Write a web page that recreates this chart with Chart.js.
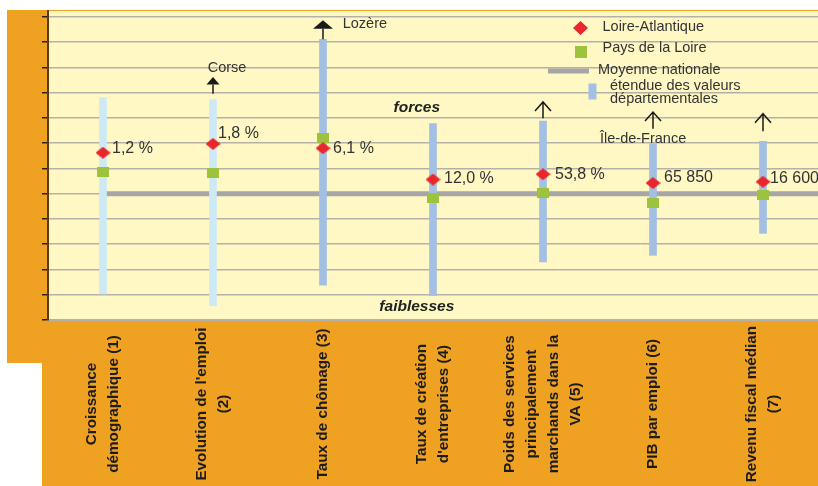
<!DOCTYPE html>
<html lang="fr">
<head>
<meta charset="utf-8">
<title>Forces et faiblesses de la Loire-Atlantique</title>
<script src="https://cdn.jsdelivr.net/npm/chart.js@4"></script>
<style>
  html, body { margin: 0; padding: 0; background: #ffffff; }
  canvas { display: block; }
</style>
</head>
<body>
<canvas id="chart" width="818" height="486"></canvas>
<script>
// Indicator names (one line per entry, drawn rotated under each column)
const categories = [
  ["Croissance", "démographique (1)"],
  ["Evolution de l'emploi", "(2)"],
  ["Taux de chômage (3)"],
  ["Taux de création", "d'entreprises (4)"],
  ["Poids des services", "principalement", "marchands dans la", "VA (5)"],
  ["PIB par emploi (6)"],
  ["Revenu fiscal médian", "(7)"]
];

// Range of departmental values (normalised index, national average = 5)
const rangeLow  = [1.03, 0.57, 1.38, 0.96, 2.30, 2.56, 3.43];
const rangeHigh = [8.80, 8.72, 11.11, 7.77, 7.87, 6.98, 7.07];

// Positions on the same index
const loireAtlantique = [6.62, 6.97, 6.80, 5.56, 5.77, 5.42, 5.47];
const paysDeLaLoire   = [5.85, 5.80, 7.20, 4.81, 5.02, 4.64, 4.93];
const nationalAverage = 5;

// Actual Loire-Atlantique values written beside the diamonds
const valueLabels = ["1,2 %", "1,8 %", "6,1 %", "12,0 %", "53,8 %", "65 850", "16 600"];

// Horizontal guide lines
const yTicks = [0, 1, 2, 3, 4, 5, 6, 7, 8, 9, 10, 11, 12];

const seriesNames = ["Loire-Atlantique", "Pays de la Loire", "Moyenne nationale", "étendue des valeurs", "départementales"];

// ---------- styling ----------
const C = {
  orange: '#EFA122',
  plot: '#FFF8C4',
  grid: '#B3B1A8',
  axis: '#5B3C12',
  avg: '#A6A6A6',
  red: '#E9262C',
  green: '#9DC33C',
  rangeLight: '#CDE9F6',
  range: '#A3BFE3',
  text: '#333333',
  label: '#1c1c1c'
};
const rangeColors = [C.rangeLight, C.rangeLight, C.range, C.range, C.range, C.range, C.range];
const SANS = '"Liberation Sans", Arial, sans-serif';

// label placement beside each diamond: [dx, dy]
const labelOffsets = [[9, -4], [5, -10], [10, 0], [11, -1], [12, 0], [11, -5], [7, -3]];

// arrows pointing to departments beyond the range
const arrows = [
  { index: 1, kind: 'filled', tip: 22.6, gap: 6, hw: 6.5, h: 7.5, text: 'Corse', tx: -5.3, ty: -5 },
  { index: 2, kind: 'filled', tip: 19, gap: 0, hw: 10, h: 8.5, text: 'Lozère', tx: 19.7, ty: 7.3 },
  { index: 4, kind: 'open', tip: 19.2, gap: 3 },
  { index: 5, kind: 'open', tip: 31.6, gap: 15, text: 'Île-de-France', tx: -53, ty: 30.6 },
  { index: 6, kind: 'open', tip: 27.7, gap: 10 }
];

function makeDiamond(w, h, color) {
  const c = document.createElement('canvas');
  c.width = w; c.height = h;
  const g = c.getContext('2d');
  g.fillStyle = color;
  g.beginPath();
  g.moveTo(w / 2, 0); g.lineTo(w, h / 2); g.lineTo(w / 2, h); g.lineTo(0, h / 2);
  g.closePath(); g.fill();
  return c;
}
function makeSquare(w, h, color) {
  const c = document.createElement('canvas');
  c.width = w; c.height = h;
  const g = c.getContext('2d');
  g.fillStyle = color;
  g.fillRect(0, 0, w, h);
  return c;
}
const diamondImg = makeDiamond(15, 12, C.red);
const squareImg = makeSquare(12, 10, C.green);
const legendDiamond = makeDiamond(15, 14, C.red);
const legendSquare = makeSquare(12, 12, C.green);

// ---------- plugins ----------
const backdrop = {
  id: 'backdrop',
  beforeDraw(chart) {
    const { ctx, chartArea: a, width, height } = chart;
    ctx.save();
    ctx.fillStyle = '#ffffff';
    ctx.fillRect(0, 0, width, height);
    ctx.fillStyle = C.orange;
    ctx.beginPath();
    ctx.moveTo(7, 10); ctx.lineTo(width, 10); ctx.lineTo(width, height);
    ctx.lineTo(42, height); ctx.lineTo(42, 363); ctx.lineTo(7, 363);
    ctx.closePath(); ctx.fill();
    ctx.fillStyle = C.plot;
    ctx.fillRect(a.left, a.top, a.right - a.left, a.bottom - a.top);
    ctx.restore();
  }
};

const averageLine = {
  id: 'averageLine',
  beforeDatasetsDraw(chart) {
    const { ctx, chartArea: a, scales: { x, y } } = chart;
    const py = y.getPixelForValue(nationalAverage);
    ctx.save();
    ctx.strokeStyle = C.avg;
    ctx.lineWidth = 5;
    ctx.beginPath();
    ctx.moveTo(x.getPixelForValue(0), py);
    ctx.lineTo(a.right, py);
    ctx.stroke();
    ctx.restore();
  }
};

function drawArrow(ctx, ax, tipY, spec, stemEnd) {
  ctx.strokeStyle = '#1a1a1a';
  ctx.fillStyle = '#1a1a1a';
  ctx.lineWidth = 1.5;
  if (spec.kind === 'filled') {
    ctx.beginPath();
    ctx.moveTo(ax, tipY);
    ctx.lineTo(ax + spec.hw, tipY + spec.h);
    ctx.lineTo(ax - spec.hw, tipY + spec.h);
    ctx.closePath(); ctx.fill();
    ctx.beginPath();
    ctx.moveTo(ax, tipY + spec.h); ctx.lineTo(ax, stemEnd); ctx.stroke();
  } else {
    ctx.beginPath();
    ctx.moveTo(ax - 8, tipY + 9); ctx.lineTo(ax, tipY); ctx.lineTo(ax + 8, tipY + 9);
    ctx.moveTo(ax, tipY); ctx.lineTo(ax, stemEnd);
    ctx.stroke();
  }
}

const annotations = {
  id: 'annotations',
  afterDraw(chart) {
    const { ctx, chartArea: a, scales: { x, y } } = chart;
    ctx.save();

    // values beside the Loire-Atlantique diamonds
    const meta = chart.getDatasetMeta(0);
    ctx.font = '16px ' + SANS;
    ctx.fillStyle = C.text;
    ctx.textAlign = 'left';
    ctx.textBaseline = 'middle';
    meta.data.forEach((pt, i) => {
      const [dx, dy] = labelOffsets[i];
      ctx.fillText(valueLabels[i], pt.x + dx, pt.y + dy);
    });

    // arrows above the ranges
    ctx.font = '14.5px ' + SANS;
    ctx.textBaseline = 'alphabetic';
    arrows.forEach(spec => {
      const ax = x.getPixelForValue(spec.index);
      const top = y.getPixelForValue(rangeHigh[spec.index]);
      const tipY = top - spec.tip;
      drawArrow(ctx, ax, tipY, spec, top - spec.gap);
      if (spec.text) {
        ctx.fillStyle = C.text;
        ctx.fillText(spec.text, ax + spec.tx, tipY + spec.ty);
      }
    });

    // forces / faiblesses
    ctx.font = 'italic bold 15.5px ' + SANS;
    ctx.fillStyle = '#222222';
    ctx.textAlign = 'center';
    ctx.textBaseline = 'middle';
    const mid = a.left + 0.479 * (a.right - a.left);
    ctx.fillText('forces', mid, y.getPixelForValue(8.41));
    ctx.fillText('faiblesses', mid, y.getPixelForValue(0.53));

    // legend
    ctx.textAlign = 'left';
    ctx.textBaseline = 'alphabetic';
    ctx.font = '14.5px ' + SANS;
    ctx.fillStyle = C.text;
    ctx.drawImage(legendDiamond, 573, 21);
    ctx.fillText(seriesNames[0], 602.5, 30.7);
    ctx.drawImage(legendSquare, 575, 46);
    ctx.fillText(seriesNames[1], 602.5, 52.3);
    ctx.fillStyle = C.avg;
    ctx.fillRect(548, 68.5, 41, 5);
    ctx.fillStyle = C.text;
    ctx.fillText(seriesNames[2], 598, 74);
    ctx.fillStyle = C.range;
    ctx.fillRect(588.5, 83.5, 8, 16);
    ctx.fillStyle = C.text;
    ctx.fillText(seriesNames[3], 610, 90);
    ctx.fillText(seriesNames[4], 610, 103.3);

    // rotated indicator names
    ctx.font = 'bold 15.3px ' + SANS;
    ctx.fillStyle = C.label;
    ctx.textAlign = 'center';
    ctx.textBaseline = 'middle';
    const lineH = 22;
    categories.forEach((lines, i) => {
      const cx = x.getPixelForValue(i);
      ctx.save();
      ctx.translate(cx, 404);
      ctx.rotate(-Math.PI / 2);
      lines.forEach((line, j) => {
        ctx.fillText(line, 0, (j - (lines.length - 1) / 2) * lineH);
      });
      ctx.restore();
    });

    ctx.restore();
  }
};

// ---------- chart ----------
new Chart(document.getElementById('chart'), {
  type: 'bar',
  data: {
    labels: categories,
    datasets: [
      {
        type: 'line',
        label: seriesNames[0],
        data: loireAtlantique,
        showLine: false,
        pointStyle: diamondImg,
        pointRadius: 7,
        order: 0
      },
      {
        type: 'line',
        label: seriesNames[1],
        data: paysDeLaLoire,
        showLine: false,
        pointStyle: squareImg,
        pointRadius: 6,
        order: 1
      },
      {
        type: 'bar',
        label: seriesNames[3] + ' ' + seriesNames[4],
        data: rangeLow.map((lo, i) => [lo, rangeHigh[i]]),
        backgroundColor: rangeColors,
        borderWidth: 0,
        barThickness: 7,
        order: 2
      }
    ]
  },
  options: {
    responsive: false,
    animation: false,
    layout: { autoPadding: false, padding: { top: 11, left: 0, right: 0, bottom: 0 } },
    plugins: { legend: { display: false }, tooltip: { enabled: false } },
    scales: {
      x: {
        offset: true,
        ticks: { display: false },
        grid: { display: false, drawTicks: false },
        border: { display: true, color: C.grid, width: 2 },
        afterFit(scale) { scale.height = 166; }
      },
      y: {
        min: 0,
        max: 12.23,
        afterBuildTicks(scale) { scale.ticks = yTicks.map(v => ({ value: v })); },
        ticks: { display: false },
        grid: { color: C.grid, lineWidth: 1.5, drawTicks: true, tickLength: 6, tickColor: '#2e2010', tickWidth: 1.5 },
        border: { display: true, color: C.axis, width: 2 },
        afterFit(scale) { scale.width = 48; }
      }
    }
  },
  plugins: [backdrop, averageLine, annotations]
});
</script>
</body>
</html>
